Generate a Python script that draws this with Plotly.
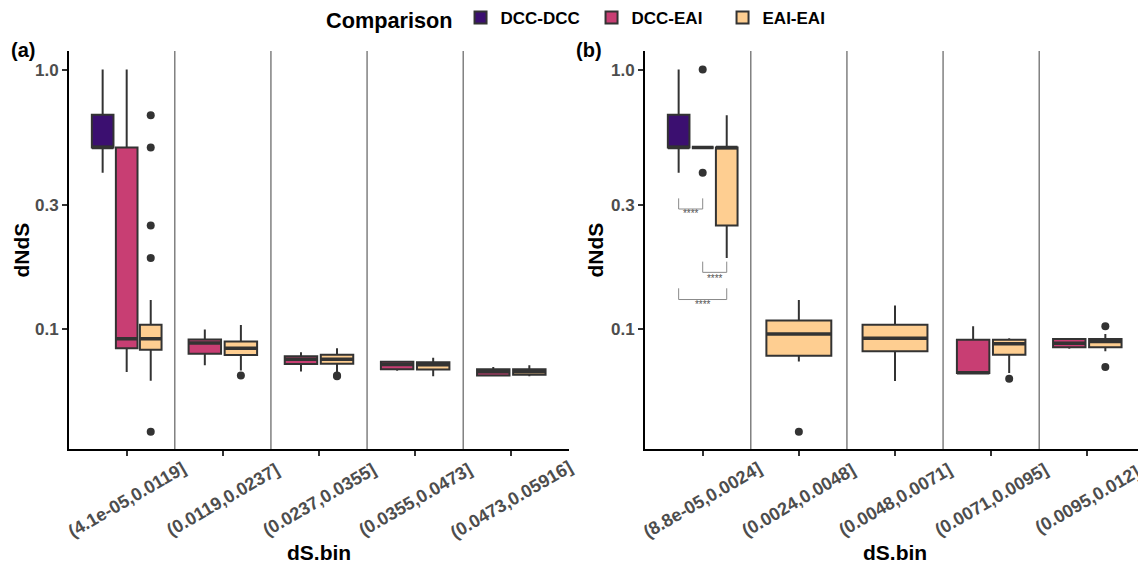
import plotly.graph_objects as go

# ---------------- data ----------------
categories_a = ["(4.1e-05,0.0119]", "(0.0119,0.0237]", "(0.0237,0.0355]",
                "(0.0355,0.0473]", "(0.0473,0.05916]"]
categories_b = ["(8.8e-05,0.0024]", "(0.0024,0.0048]", "(0.0048,0.0071]",
                "(0.0071,0.0095]", "(0.0095,0.012]"]
comparisons = ["DCC-DCC", "DCC-EAI", "EAI-EAI"]

# box stats per category: (lower whisker, q1, median, q3, upper whisker)
a_dcc_dcc = [(0.40, 0.50, 0.50, 0.67, 1.0), None, None, None, None]
a_dcc_eai = [(0.068, 0.084, 0.0914, 0.50, 1.0),
             (0.0722, 0.080, 0.0881, 0.0908, 0.0992),
             (0.0684, 0.0730, 0.0763, 0.0783, 0.0811),
             (0.0688, 0.0698, 0.0728, 0.0745, 0.0745),
             (0.066, 0.066, 0.0682, 0.0698, 0.0711)]
a_eai_eai = [(0.063, 0.083, 0.0914, 0.1035, 0.129),
             (0.069, 0.0791, 0.0841, 0.0893, 0.1033),
             (0.068, 0.0733, 0.0763, 0.0794, 0.0841),
             (0.0656, 0.0696, 0.0726, 0.0742, 0.0773),
             (0.0656, 0.0664, 0.0682, 0.0698, 0.0722)]
a_out_dcc_dcc = [[], [], [], [], []]
a_out_dcc_eai = [[], [], [], [], []]
a_out_eai_eai = [[0.667, 0.50, 0.25, 0.1875, 0.040], [0.066], [0.066, 0.0655], [], []]

b_dcc_dcc = [(0.40, 0.50, 0.50, 0.67, 1.0), None, None, None, None]
b_dcc_eai = [(0.50, 0.50, 0.50, 0.50, 0.50), None, None,
             (0.0675, 0.0675, 0.0676, 0.0906, 0.1023),
             (0.0837, 0.0849, 0.0879, 0.0912, 0.0912)]
b_eai_eai = [(0.1875, 0.25, 0.50, 0.50, 0.667),
             (0.0748, 0.0786, 0.0955, 0.1076, 0.129),
             (0.0628, 0.0819, 0.0919, 0.1035, 0.1228),
             (0.0674, 0.0793, 0.0874, 0.0906, 0.0919),
             (0.0819, 0.0849, 0.0893, 0.0912, 0.0955)]
b_out_dcc_dcc = [[], [], [], [], []]
b_out_dcc_eai = [[1.0, 0.40], [], [], [], []]
b_out_eai_eai = [[], [0.040], [], [0.0641], [0.1023, 0.0711]]

# significance brackets in panel b, first bin: (group1, group2, leg top, bar, label y, label)
b_sig_pairs = [("DCC-DCC", "DCC-EAI", 0.3184, 0.2897, 0.2748, "****"),
               ("DCC-EAI", "EAI-EAI", 0.1815, 0.165, 0.155, "****"),
               ("DCC-DCC", "EAI-EAI", 0.1432, 0.1296, 0.1228, "****")]

y_tick_vals = [0.1, 0.3, 1.0]
y_tick_text = ["0.1", "0.3", "1.0"]

colors = {"DCC-DCC": "#3B0F70", "DCC-EAI": "#C83E73", "EAI-EAI": "#FECE91"}

# ---------------- figure ----------------
W, H = 1138, 565
FONT = "Liberation Sans, Arial, Helvetica, sans-serif"
OUT = "#333333"

fig = go.Figure()
shown = set()

panels = [
    ("x", "y", categories_a, [a_dcc_dcc, a_dcc_eai, a_eai_eai],
     [a_out_dcc_dcc, a_out_dcc_eai, a_out_eai_eai]),
    ("x2", "y2", categories_b, [b_dcc_dcc, b_dcc_eai, b_eai_eai],
     [b_out_dcc_dcc, b_out_dcc_eai, b_out_eai_eai]),
]

group_pos = {}
for xa, ya, cats, stats, outs in panels:
    for i in range(len(cats)):
        present = [k for k in range(3) if stats[k][i] is not None]
        n = len(present)
        slot = 0.75 / n
        bw = 0.9 * slot
        for j, k in enumerate(present):
            pos = i - 0.375 + slot * (j + 0.5)
            group_pos[(xa, i, comparisons[k])] = pos
            lo, q1, med, q3, hi = stats[k][i]
            name = comparisons[k]
            fig.add_trace(go.Box(
                x=[pos], q1=[q1], median=[med], q3=[q3],
                lowerfence=[lo], upperfence=[hi],
                width=bw, fillcolor=colors[name],
                line=dict(color=OUT, width=2), whiskerwidth=0,
                boxpoints=False, name=name, legendgroup=name,
                showlegend=name not in shown, legendrank=k + 1,
                xaxis=xa, yaxis=ya, hoverinfo="skip"))
            shown.add(name)
            # thicker median line (ggplot style)
            fig.add_trace(go.Scatter(
                x=[pos - bw / 2, pos + bw / 2], y=[med, med], mode="lines",
                line=dict(color=OUT, width=3.5), showlegend=False,
                hoverinfo="skip", xaxis=xa, yaxis=ya))
            if outs[k][i]:
                fig.add_trace(go.Scatter(
                    x=[pos] * len(outs[k][i]), y=outs[k][i], mode="markers",
                    marker=dict(color=OUT, size=8), showlegend=False,
                    hoverinfo="skip", xaxis=xa, yaxis=ya))

# significance brackets
for g1, g2, ytop, ybar, ylab, lab in b_sig_pairs:
    x1 = group_pos[("x2", 0, g1)]
    x2 = group_pos[("x2", 0, g2)]
    fig.add_trace(go.Scatter(
        x=[x1, x1, x2, x2], y=[ytop, ybar, ybar, ytop], mode="lines",
        line=dict(color="#8a8a8a", width=1), showlegend=False,
        hoverinfo="skip", xaxis="x2", yaxis="y2"))
    fig.add_trace(go.Scatter(
        x=[(x1 + x2) / 2], y=[ylab], mode="text", text=[lab],
        textfont=dict(color="#555555", size=10, family=FONT),
        showlegend=False, hoverinfo="skip", xaxis="x2", yaxis="y2"))

# geometry (pixels)
ax_a_left, ax_a_right = 69, 569
ax_b_left = 645
top_px, bot_px = 50, 449
unit_px = (ax_a_right - ax_a_left) / 5.2
b_right_range = -0.6 + (W - ax_b_left) / unit_px

common_x = dict(showline=True, linecolor="black", linewidth=2, ticks="outside",
                ticklen=5, tickwidth=1.5, tickcolor="#333333",
                showticklabels=False, showgrid=False, zeroline=False,
                tickvals=list(range(5)))
common_y = dict(type="log", range=[-1.465, 0.072], showline=True,
                linecolor="black", linewidth=2, ticks="outside", ticklen=5,
                tickwidth=1.5, tickcolor="#333333", tickvals=y_tick_vals,
                ticktext=y_tick_text, showgrid=False, zeroline=False,
                tickfont=dict(family=FONT, size=17, color="#4D4D4D", weight="bold"),
                domain=[1 - bot_px / H, 1 - top_px / H])

fig.update_layout(
    width=W, height=H, margin=dict(l=0, r=0, t=0, b=0),
    paper_bgcolor="white", plot_bgcolor="white",
    font=dict(family=FONT, color="black"),
    xaxis=dict(domain=[ax_a_left / W, ax_a_right / W], range=[-0.6, 4.6],
               anchor="y", **common_x),
    yaxis=dict(anchor="x", **common_y),
    xaxis2=dict(domain=[ax_b_left / W, 1.0], range=[-0.6, b_right_range],
                anchor="y2", **common_x),
    yaxis2=dict(anchor="x2", **common_y),
    legend=dict(orientation="h", x=324 / W, xanchor="left", y=1 + 1 / H,
                yanchor="top",
                title=dict(text="Comparison", side="left",
                           font=dict(size=21.7, family=FONT, weight="bold")),
                font=dict(size=17, family=FONT, weight="bold"),
                itemwidth=30, traceorder="normal",
                entrywidth=86, entrywidthmode="pixels"),
    showlegend=True,
)

# separators between bins
for xa in ["x", "x2"]:
    for i in range(4):
        fig.add_shape(type="line", xref=xa, yref="y domain" if xa == "x" else "y2 domain",
                      x0=i + 0.5, x1=i + 0.5, y0=0, y1=1,
                      line=dict(color="#808080", width=1.5), layer="below")

# tick labels, axis titles, panel tags
ann = []
for xa, cats in [("x", categories_a), ("x2", categories_b)]:
    for i, c in enumerate(cats):
        ann.append(dict(text=c, x=i, xref=xa, y=1 - 500 / H, yref="paper",
                        textangle=-30, xanchor="center", yanchor="middle",
                        showarrow=False,
                        font=dict(family=FONT, size=18, color="#4D4D4D", weight="bold")))
    ann.append(dict(text="dS.bin", x=2, xref=xa, y=1 - 552 / H, yref="paper",
                    xanchor="center", yanchor="middle", showarrow=False,
                    font=dict(family=FONT, size=21, color="black", weight="bold")))
for xpx in [22, 596]:
    ann.append(dict(text="dNdS", x=xpx / W, xref="paper", y=1 - 250 / H, yref="paper",
                    textangle=-90, xanchor="center", yanchor="middle", showarrow=False,
                    font=dict(family=FONT, size=21, color="black", weight="bold")))
for tag, xpx in [("(a)", 23), ("(b)", 589)]:
    ann.append(dict(text=tag, x=xpx / W, xref="paper", y=1 - 49 / H, yref="paper",
                    xanchor="center", yanchor="middle", showarrow=False,
                    font=dict(family=FONT, size=20, color="black", weight="bold")))
fig.update_layout(annotations=ann)

fig.write_html("out.html", config={"displayModeBar": False},
               post_script="document.body.style.margin='0px';")
